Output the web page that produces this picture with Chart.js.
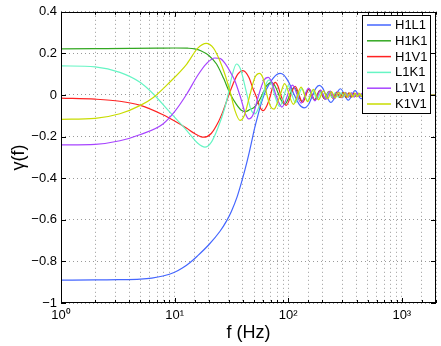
<!DOCTYPE html>
<html>
<head>
<meta charset="utf-8">
<script src="https://cdn.jsdelivr.net/npm/chart.js@4.4.0/dist/chart.umd.min.js"></script>
<style>
html, body { margin: 0; padding: 0; background: #fff; }
canvas { display: block; }
</style>
</head>
<body>
<canvas id="myChart" width="441" height="346"></canvas>
<script>
// overlap reduction functions
var labels = ['H1L1', 'H1K1', 'H1V1', 'L1K1', 'L1V1', 'K1V1'];
var colors = ['#4466ff', '#33a822', '#ff2222', '#66f5c4', '#a744ff', '#c8dc00'];

var h1l1F = [1, 2, 3.2, 5, 6.3, 7.9, 10, 11.7, 13.7, 15.8, 20, 25.1, 28.7, 31.6, 35.5, 38.8, 41.7, 44.7, 47.5, 50.1, 53.7, 57.5, 61.7, 67.6, 74.1, 79.4, 85.1, 91.2, 97.7, 104.7, 112.2, 125, 138, 150, 163, 175, 188, 200, 213, 238, 288, 338, 388, 438, 488, 538, 588, 638, 688, 738, 788, 850, 1000, 2000];
var h1l1G = [-0.890, -0.889, -0.888, -0.885, -0.880, -0.870, -0.852, -0.832, -0.805, -0.775, -0.720, -0.655, -0.605, -0.560, -0.490, -0.420, -0.358, -0.292, -0.228, -0.170, -0.105, -0.045, 0.005, 0.050, 0.082, 0.098, 0.104, 0.097, 0.075, 0.045, 0.005, -0.045, -0.062, -0.048, -0.005, 0.032, 0.046, 0.035, 0.005, -0.036, 0.030, -0.025, 0.021, -0.018, 0.016, -0.014, 0.012, -0.011, 0.010, -0.009, 0.008, -0.006, 0, 0];

var h1k1F = [1, 2, 4, 7, 10, 13, 15, 17, 20, 23.4, 27, 30.6, 35, 39, 42, 46, 50, 54.4, 59, 64.5, 72, 93, 113, 132, 151, 170, 189, 208, 227, 246, 265, 284, 303, 322, 341, 360, 379, 398, 417, 436, 455, 474, 493, 600, 2000];
var h1k1G = [0.222, 0.223, 0.224, 0.225, 0.226, 0.225, 0.222, 0.213, 0.190, 0.149, 0.080, 0.010, -0.045, -0.075, -0.080, -0.070, -0.060, -0.035, 0.000, 0.045, 0.060, -0.045, 0.037, -0.031, 0.027, -0.023, 0.020, -0.018, 0.016, -0.014, 0.013, -0.012, 0.011, -0.010, 0.0095, -0.009, 0.0085, -0.008, 0.0075, -0.007, 0.0065, -0.006, 0.006, 0, 0];

var h1v1F = [1, 2, 3.3, 5, 7.9, 10, 12.8, 15, 18, 21, 24, 26.8, 30, 32.7, 36, 40, 45, 49, 52.6, 56, 60.2, 65, 70, 73, 77, 81, 86, 96, 115, 134, 153, 172, 191, 210, 229, 248, 267, 286, 305, 324, 343, 362, 381, 400, 419, 438, 457, 476, 495, 600, 2000];
var h1v1G = [-0.015, -0.020, -0.030, -0.050, -0.095, -0.125, -0.160, -0.185, -0.203, -0.185, -0.135, -0.075, 0.000, 0.053, 0.100, 0.117, 0.085, 0.030, -0.011, -0.055, -0.075, -0.050, 0.000, 0.040, 0.061, 0.045, 0.000, -0.050, 0.042, -0.035, 0.030, -0.026, 0.022, -0.019, 0.017, -0.015, 0.014, -0.013, 0.012, -0.011, 0.010, -0.0095, 0.009, -0.0085, 0.008, -0.0075, 0.007, -0.0065, 0.006, 0, 0];

var l1k1F = [1, 2, 3.3, 5, 6.5, 9, 12.8, 16, 18.5, 21, 24, 27.7, 29.5, 31.8, 35, 38, 43, 47, 51, 55, 60, 64, 68, 72, 76, 84, 100, 116, 132, 148, 164, 180, 196, 212, 228, 244, 260, 276, 292, 308, 324, 340, 356, 372, 388, 404, 420, 436, 452, 468, 484, 600, 2000];
var l1k1G = [0.140, 0.135, 0.109, 0.060, 0.005, -0.080, -0.171, -0.232, -0.251, -0.228, -0.160, -0.060, 0.000, 0.085, 0.149, 0.125, 0.010, -0.070, -0.091, -0.060, 0.000, 0.055, 0.072, 0.050, 0.000, -0.055, 0.045, -0.037, 0.031, -0.027, 0.023, -0.020, 0.018, -0.016, 0.015, -0.013, 0.012, -0.011, 0.011, -0.010, 0.0095, -0.009, 0.0085, -0.008, 0.0075, -0.007, 0.007, -0.0065, 0.006, -0.006, 0.0055, 0, 0];

var l1v1F = [1, 2, 3.3, 5, 7.9, 10, 12.8, 16, 19, 22.6, 25, 28, 31, 33.9, 38, 42, 45, 49, 55, 61, 66.6, 72, 78, 88, 109, 130, 151, 172, 193, 214, 235, 256, 277, 298, 319, 340, 361, 382, 403, 424, 445, 466, 487, 600, 2000];
var l1v1G = [-0.240, -0.237, -0.220, -0.190, -0.139, -0.080, 0.005, 0.095, 0.150, 0.178, 0.176, 0.150, 0.110, 0.069, -0.010, -0.090, -0.115, -0.095, 0.000, 0.070, 0.085, 0.060, 0.000, -0.058, 0.047, -0.039, 0.033, -0.028, 0.024, -0.021, 0.019, -0.017, 0.015, -0.014, 0.013, -0.012, 0.011, -0.010, 0.0095, -0.009, 0.0085, -0.008, 0.0075, 0, 0];

var k1v1F = [1, 2, 3.3, 5, 6.5, 9, 12.8, 16, 19, 22, 25, 27.7, 31, 34, 37.6, 41, 46, 51, 56, 61, 65, 70, 75, 80, 85, 93, 111, 130, 148, 167, 185, 204, 222, 241, 259, 278, 296, 315, 333, 352, 370, 389, 407, 426, 444, 463, 481, 500, 600, 2000];
var k1v1G = [-0.117, -0.112, -0.090, -0.050, -0.012, 0.060, 0.149, 0.225, 0.248, 0.225, 0.165, 0.100, 0.010, -0.075, -0.122, -0.100, 0.000, 0.085, 0.104, 0.070, 0.000, -0.055, -0.068, -0.040, 0.000, 0.055, -0.045, 0.038, -0.032, 0.027, -0.023, 0.020, -0.018, 0.016, -0.014, 0.013, -0.012, 0.011, -0.010, 0.0095, -0.009, 0.0085, -0.008, 0.0075, -0.007, 0.0065, -0.006, 0.006, 0, 0];

var freqs = [h1l1F, h1k1F, h1v1F, l1k1F, l1v1F, k1v1F];
var gammas = [h1l1G, h1k1G, h1v1G, l1k1G, l1v1G, k1v1G];

var sup = ['\u2070', '\u00b9', '\u00b2', '\u00b3'];
var font = 'Liberation Sans, Arial, Helvetica, sans-serif';

function isPow10(v) {
    var l = Math.log10(v);
    return Math.abs(l - Math.round(l)) < 1e-9;
}

var datasets = [];
for (var i = 0; i < labels.length; i++) {
    var pts = [];
    for (var j = 0; j < freqs[i].length; j++) {
        pts.push({x: freqs[i][j], y: gammas[i][j]});
    }
    datasets.push({
        label: labels[i],
        data: pts,
        borderColor: colors[i],
        backgroundColor: colors[i],
        borderWidth: 1.2,
        pointRadius: 0,
        fill: false,
        cubicInterpolationMode: 'monotone',
        order: labels.length - i
    });
}

// box, inward ticks and legend like matlab
var boxPlugin = {
    id: 'boxPlugin',
    afterDraw: function(chart) {
        var ctx = chart.ctx;
        var a = chart.chartArea;
        var xs = chart.scales.x, ys = chart.scales.y;
        ctx.save();
        ctx.strokeStyle = '#000';
        ctx.lineWidth = 1;
        ctx.beginPath();
        xs.ticks.forEach(function(t) {
            var px = Math.round(xs.getPixelForValue(t.value)) + 0.5;
            var len = isPow10(t.value) ? 5 : 3;
            ctx.moveTo(px, a.bottom); ctx.lineTo(px, a.bottom - len);
            ctx.moveTo(px, a.top); ctx.lineTo(px, a.top + len);
        });
        ys.ticks.forEach(function(t) {
            var py = Math.round(ys.getPixelForValue(t.value)) + 0.5;
            ctx.moveTo(a.left, py); ctx.lineTo(a.left + 5, py);
            ctx.moveTo(a.right, py); ctx.lineTo(a.right - 5, py);
        });
        ctx.stroke();

        // legend
        var lx = Math.round(a.right) - 74, ly = Math.round(a.top) + 3;
        var w = 68, h = 98;
        ctx.fillStyle = '#fff';
        ctx.fillRect(lx, ly, w, h);
        ctx.strokeRect(lx + 0.5, ly + 0.5, w, h);
        ctx.font = '13px ' + font;
        ctx.textBaseline = 'middle';
        ctx.textAlign = 'left';
        chart.data.datasets.forEach(function(ds, k) {
            var cy = ly + 10 + k * 15.8;
            ctx.strokeStyle = ds.borderColor;
            ctx.lineWidth = 1.5;
            ctx.beginPath();
            ctx.moveTo(lx + 5, cy); ctx.lineTo(lx + 29, cy);
            ctx.stroke();
            ctx.fillStyle = '#000';
            ctx.fillText(ds.label, lx + 33, cy + 0.5);
        });

        ctx.strokeStyle = '#000';
        ctx.lineWidth = 1;
        ctx.strokeRect(Math.round(a.left) + 0.5, Math.round(a.top) + 0.5,
            Math.round(a.right - a.left) - 1, Math.round(a.bottom - a.top) - 1);
        ctx.restore();
    }
};

Chart.defaults.color = '#000';
Chart.defaults.font.family = font;

new Chart('myChart', {
    type: 'line',
    data: {datasets: datasets},
    options: {
        responsive: false,
        animation: false,
        devicePixelRatio: 1,
        layout: {padding: {left: 0, top: 11, right: 5, bottom: 0}},
        plugins: {legend: {display: false}, tooltip: {enabled: false}},
        scales: {
            x: {
                type: 'logarithmic',
                min: 1,
                max: 2000,
                afterFit: function(s) { s.height = 43; },
                grid: {color: '#9a9a9a', drawTicks: false, lineWidth: 1},
                border: {display: false, dash: [1, 3]},
                ticks: {
                    autoSkip: false,
                    maxRotation: 0,
                    padding: 5,
                    font: {size: 13},
                    callback: function(v) {
                        if (!isPow10(v)) return '';
                        return '10' + sup[Math.round(Math.log10(v))];
                    }
                },
                title: {display: true, text: 'f (Hz)', font: {size: 18}, padding: {top: 0, bottom: 2}}
            },
            y: {
                type: 'linear',
                min: -1,
                max: 0.4,
                afterFit: function(s) { s.width = 61; },
                grid: {color: '#9a9a9a', drawTicks: false, lineWidth: 1},
                border: {display: false, dash: [1, 3]},
                ticks: {
                    stepSize: 0.2,
                    padding: 4,
                    font: {size: 13},
                    callback: function(v) {
                        var r = Math.round(v * 10) / 10;
                        if (r === 0) return '0';
                        return (r < 0 ? '\u2212' : '') + String(Math.abs(r));
                    }
                },
                title: {display: true, text: '\u03b3(f)', font: {size: 18}, padding: {top: 8, bottom: 0}}
            }
        }
    },
    plugins: [boxPlugin]
});
</script>
</body>
</html>
